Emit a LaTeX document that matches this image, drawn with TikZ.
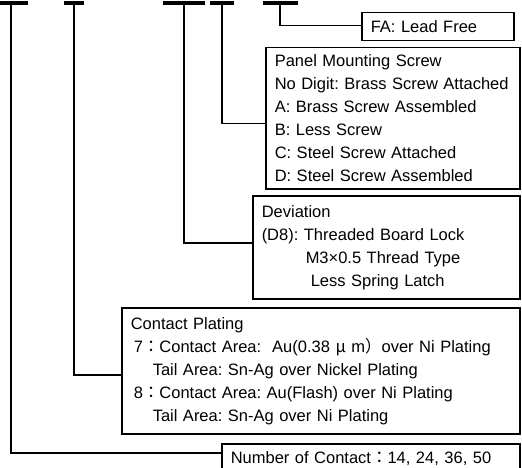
\documentclass[tikz,border=0pt]{standalone}
\usepackage{fontspec}
\setmainfont{Liberation Sans}
\newfontfamily\cjk{Noto Sans CJK JP}

\tikzset{
  legend/.style={draw, line width=1.5pt, anchor=north west, align=left,
    inner xsep=9pt, inner ysep=0pt, font=\fontsize{16.5}{23}\selectfont\frenchspacing},
  codebar/.style={fill=black, inner sep=0pt, minimum height=3.5pt},
  lead/.style={line width=1.5pt},
}

\begin{document}
\begin{tikzpicture}[x=1pt, y=-1pt]
\useasboundingbox (0,0) rectangle (522,468);

% code bars along the top edge
\node[codebar, minimum width=34pt] (b1) at (11,3) {};
\node[codebar, minimum width=20pt] (b2) at (74,3) {};
\node[codebar, minimum width=42pt] (b3) at (184,3) {};
\node[codebar, minimum width=24pt] (b4) at (222,3) {};
\node[codebar, minimum width=35pt] (b5) at (280,3) {};

% legend boxes
\node[legend, minimum width=152pt, text width=134pt, minimum height=28pt] (fa) at (361,12)
  {FA: Lead Free};
\node[legend, minimum width=254pt, text width=236pt, minimum height=141pt] (screw) at (265,47)
  {Panel Mounting Screw\\
   No Digit: Brass Screw Attached\\
   A: Brass Screw Assembled\\
   B: Less Screw\\
   C: Steel Screw Attached\\
   D: Steel Screw Assembled};
\node[legend, minimum width=267pt, text width=249pt, minimum height=103pt] (dev) at (252,195)
  {Deviation\\
   (D8): Threaded Board Lock\\
   \hspace*{44pt}M3×0.5 Thread Type\\
   \hspace*{49pt}Less Spring Latch};
\node[legend, minimum width=398pt, text width=380pt, minimum height=126pt] (plating) at (121,307)
  {Contact Plating\\
   \hspace*{3pt}7{\cjk ：}Contact Area:\ \ Au(0.38 {\cjk μ} m{\cjk ）}over Ni Plating\\
   \hspace*{22pt}Tail Area: Sn-Ag over Nickel Plating\\
   \hspace*{3pt}8{\cjk ：}Contact Area: Au(Flash) over Ni Plating\\
   \hspace*{22pt}Tail Area: Sn-Ag over Ni Plating};
\node[legend, minimum width=298pt, text width=280pt, minimum height=30pt] (count) at (221,443)
  {Number of Contact{\cjk ：}14, 24, 36, 50};

% leads from bars to boxes
\draw[lead] (b1.center) |- ([yshift=6pt]count.west);
\draw[lead] (b2.center) |- ([yshift=-4pt]plating.west);
\draw[lead] (b3.center) |- ([yshift=4.5pt]dev.west);
\draw[lead] (b4.center) |- ([yshift=-5.5pt]screw.west);
\draw[lead] (b5.center) |- ([yshift=1pt]fa.west);

\end{tikzpicture}
\end{document}
